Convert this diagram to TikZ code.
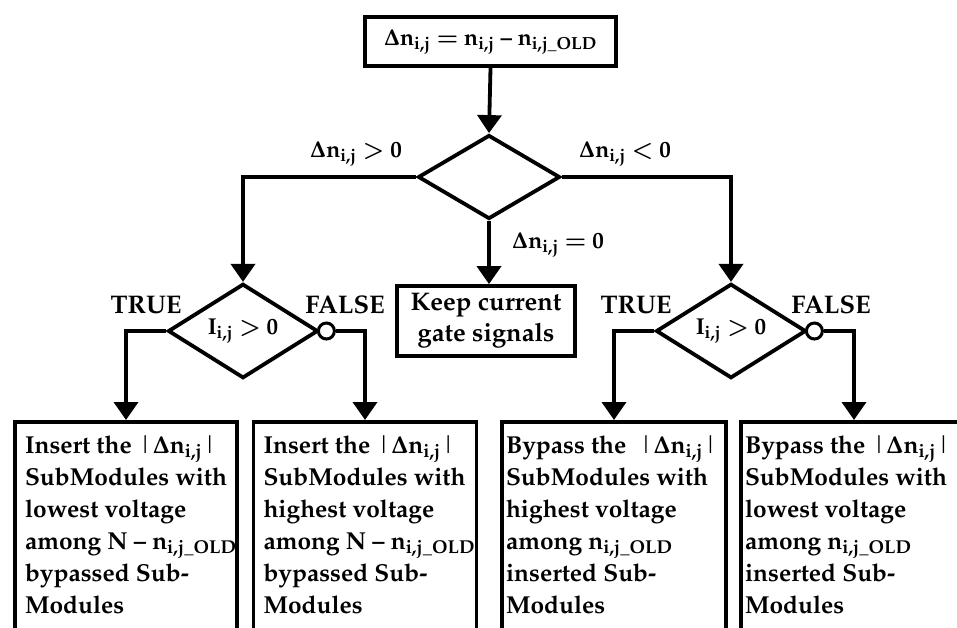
\documentclass[tikz,border=0pt]{standalone}
\usepackage[T1]{fontenc}
\usepackage{mathpazo}
\usetikzlibrary{shapes.geometric,arrows.meta}
\newcommand{\sij}{\textsubscript{i,j}}
\newcommand{\sold}{\textsubscript{i,j\_OLD}}
\newcommand{\dn}{$\Delta$n\sij}
\newcommand{\vb}{{\mdseries\textbar}}
\begin{document}
\begin{tikzpicture}[x=1pt,y=-1pt, line width=3.8pt,
  every node/.style={font=\bfseries\boldmath\fontsize{25.5}{29}\selectfont, inner sep=0pt},
  mathfont/.style={font=\bfseries\boldmath\fontsize{23}{27}\selectfont},
  arr/.style={-{Triangle[length=18pt,width=24pt]}},
  boxst/.style={draw, rectangle},
  dia/.style={draw, diamond, minimum width=150pt, minimum height=90pt},
  bub/.style={draw, circle, line width=3pt, minimum size=16pt, fill=white},
  lab/.style={anchor=base},
  btext/.style={anchor=north west, align=left,
    font=\bfseries\boldmath\fontsize{24.5}{32}\selectfont}
]
\clip (0,0) rectangle (957,627);
\fill[white] (0,0) rectangle (957,627);

% top box
\node[boxst, mathfont, minimum width=251pt, minimum height=49pt] (top) at (490.5,41.5)
  {\dn\ $=$ n\sij\ -- n\sold};

% main diamond
\node[dia, minimum width=142pt, minimum height=84pt] (d0) at (489,177) {};
\draw[arr] (top.south) -- (d0.north);

% keep box
\node[boxst, minimum width=178pt, minimum height=70pt, align=center,
  font=\bfseries\fontsize{25.5}{31}\selectfont] (keep) at (486,321)
  {Keep current\\gate signals};
\draw[arr] (d0.south) -- (d0.south |- keep.north);

% sub diamonds
\node[dia, mathfont] (d1) at (243,331) {I\sij\ $>$ 0};
\node[dia, mathfont] (d2) at (731,331) {I\sij\ $>$ 0};
\node[bub, anchor=west] (c1) at ([xshift=-3pt]d1.east) {};
\node[bub, anchor=west] (c2) at ([xshift=-3pt]d2.east) {};

\draw[arr] (d0.west) -| (d1.north);
\draw[arr] (d0.east) -| (d2.north);

% labels
\node[lab, mathfont] (l1) at (356,157) {\dn\ $>$ 0};
\node[lab, mathfont] (l2) at (625,157) {\dn\ $<$ 0};
\node[lab, mathfont] (l3) at (558,248) {\dn\ $=$ 0};
\node[lab] (t1) at (146,313) {TRUE};
\node[lab] (f1) at (345,313) {FALSE};
\node[lab] (t2) at (636,313) {TRUE};
\node[lab] (f2) at (831,313) {FALSE};

% bottom boxes
\node[boxst, anchor=north, minimum width=222pt, minimum height=300pt] (b1) at (126,420) {};
\node[boxst, anchor=north, minimum width=223pt, minimum height=300pt] (b2) at (365,420) {};
\node[boxst, anchor=north, minimum width=224pt, minimum height=300pt] (b3) at (614,420) {};
\node[boxst, anchor=north, minimum width=226pt, minimum height=300pt] (b4) at (854,420) {};

\draw[arr] (d1.west) -| (b1.north);
\draw[arr] (c1.east) -| (b2.north);
\draw[arr] (d2.west) -| (b3.north);
\draw[arr] (c2.east) -| (b4.north);

\node[btext] (x1) at ([xshift=10pt,yshift=-14pt]b1.north west)
  {Insert the \vb\dn\vb\\SubModules with\\lowest voltage\\among N -- n\sold\\bypassed Sub-\\Modules};
\node[btext] (x2) at ([xshift=10pt,yshift=-14pt]b2.north west)
  {Insert the \vb\dn\vb\\SubModules with\\highest voltage\\among N -- n\sold\\bypassed Sub-\\Modules};
\node[btext] (x3) at ([xshift=4pt,yshift=-14pt]b3.north west)
  {Bypass the \ \vb\dn\vb\\SubModules with\\highest voltage\\among n\sold\\inserted Sub-\\Modules};
\node[btext] (x4) at ([xshift=4pt,yshift=-14pt]b4.north west)
  {Bypass the \vb\dn\vb\\SubModules with\\lowest voltage\\among n\sold\\inserted Sub-\\Modules};
\end{tikzpicture}
\end{document}
